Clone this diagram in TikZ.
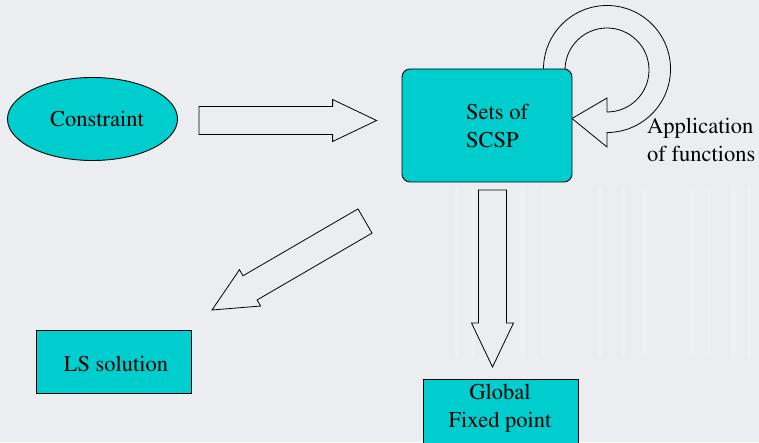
\documentclass[tikz,border=0pt]{standalone}
\usepackage[T1]{fontenc}
\usepackage{times}
\usetikzlibrary{shapes.geometric,calc}
\definecolor{slidebg}{RGB}{236,237,241}
\definecolor{boxteal}{RGB}{0,206,206}

% hollow block arrow from tail #1 to tip #2
\newcommand\drawblockarrow[2]{%
  \path ($(#2)!44pt!(#1)$) coordinate (neck);
  \draw[blockarrow]
    ($(#1)!14pt!90:(#2)$) -- ($(neck)!14pt!90:(#2)$) -- ($(neck)!21pt!90:(#2)$)
    -- (#2)
    -- ($(neck)!21pt!-90:(#2)$) -- ($(neck)!14pt!-90:(#2)$) -- ($(#1)!14pt!-90:(#2)$)
    -- cycle;}

\begin{document}
\begin{tikzpicture}[x=1pt,y=1pt,
  every node/.style={font=\rmfamily\fontsize{22.5}{28}\selectfont, inner sep=0pt, text=black},
  tealbox/.style={draw=black, fill=boxteal, line width=0.9pt},
  blockarrow/.style={draw=black, line width=0.8pt, line join=miter},
  streak/.style={white, opacity=0.18}]
\useasboundingbox (0,0) rectangle (759,442);
\fill[slidebg] (0,0) rectangle (759,442);
\clip (0,0) rectangle (759,442);

% faint vertical streaks of the slide background
\foreach \sx/\sw in {455/4,472/3,520/5,541/3,598/4,622/3,642/5,690/4,707/3,731/5,748/3}
  \fill[streak] (\sx,85) rectangle ++(\sw,170);

% nodes
\node[ellipse, tealbox, minimum width=170pt, minimum height=83pt] (constraint) at (92.5,323) {};
\node (constrainttext) at (97,323) {Constraint};

% self loop of the SCSP box (drawn first, the box covers its foot)
\draw[blockarrow]
  (543.5,373) arc[start angle=180, end angle=-90, radius=63.5pt]
  -- (607,295) -- (572,323.5) -- (607,344) -- (607,330)
  arc[start angle=-90, end angle=180, radius=42pt] -- (565,373);

\node[rectangle, rounded corners=8pt, tealbox, minimum width=170pt, minimum height=113pt] (scsp) at (487,316.5) {};
\node[anchor=west, align=left] (scsptext) at (466,316) {Sets of\\SCSP};

\node[anchor=west, align=left] (apptext) at (647,302) {Application\\of functions};

\node[rectangle, tealbox, minimum width=155pt, minimum height=63pt] (ls) at (113.5,80.5) {};
\node (lstext) at (116,78) {LS solution};

\node[rectangle, tealbox, minimum width=155pt, minimum height=70pt] (fixed) at (500.5,28) {};
\node[align=center] (fixedtext) at (500,34) {Global\\Fixed point};

% connectors
\coordinate (rtail) at (199,321.5);
\coordinate (rtip) at (376.6,321.5);
\drawblockarrow{rtail}{rtip}

\coordinate (dtail) at (365,221);
\coordinate (dtip) at (212,132);
\drawblockarrow{dtail}{dtip}

\coordinate (vtail) at (492.5,252);
\coordinate (vtip) at (492.5,75);
\drawblockarrow{vtail}{vtip}
\end{tikzpicture}
\end{document}
